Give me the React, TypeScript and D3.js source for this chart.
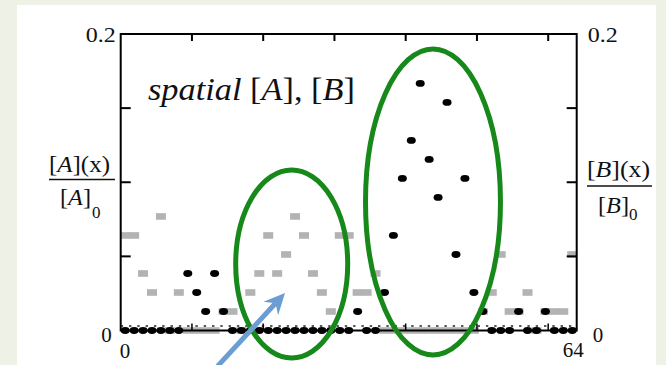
import React from 'react';
import * as d3 from 'd3';

const WIDTH = 666;
const HEIGHT = 365;
const MARGIN = { top: 34, right: 89.3, bottom: 34.5, left: 120.7 };
const FONT = '"Liberation Serif", "DejaVu Serif", serif';

// molecules per lattice site (0..50), one level = UNIT of [X]/[X]0
const UNIT = 0.01282;
const aCounts = [5, 5, 3, 2, 6, 0, 2, 0, 0, 0, 0, 1, 1, 0, 2, 3, 5, 3, 4, 6, 5, 3, 2, 1, 5, 5,
  2, 2, 3, 0, 0, 0, 0, 0, 0, 0, 0, 0, 0, 0, 1, 2, 4, 1, 1, 2, 0, 1, 1, 1, 4];
const bCounts = [0, 0, 0, 0, 0, 0, 0, 3, 2, 1, 3, 1, 0, 0, 0, 0, 0, 0, 0, 0, 0, 0, 0, 0, 0, 0,
  1, 0, 0, 2, 5, 8, 10, 13, 9, 7, 12, 4, 8, 2, 1, 0, 0, 0, 1, 0, 0, 1, 0, 0, 0];

const xDomain = [0, 64];
const xTicks = [10, 20, 30, 40, 50, 60];
const yDomain = [0, 0.2];
const yTicks = [0.05, 0.1, 0.15];
const THRESHOLD = 0.003;

// annotations, in data units
const ellipses = [
  { cx: 24.0, cy: 0.0449, rx: 7.86, ry: 0.0634 },
  { cx: 43.83, cy: 0.0867, rx: 9.47, ry: 0.1032 },
];
const arrow = { x1: 13.6, y1: -0.024, x2: 23.06, y2: 0.0253 };

export default function App() {
  const left = MARGIN.left;
  const right = WIDTH - MARGIN.right;
  const top = MARGIN.top;
  const bottom = HEIGHT - MARGIN.bottom;

  const sites = aCounts.map((_, i) => i);
  const xBand = d3.scaleBand<number>().domain(sites).range([left, right]);
  const x = d3.scaleLinear().domain(xDomain).range([left, right]);
  const y = d3.scaleLinear().domain(yDomain).range([bottom, top]);
  const cx = (i: number) => (xBand(i) as number) + xBand.bandwidth() / 2;

  // arrow head geometry
  const ax1 = x(arrow.x1), ay1 = y(arrow.y1), ax2 = x(arrow.x2), ay2 = y(arrow.y2);
  const len = Math.hypot(ax2 - ax1, ay2 - ay1);
  const ux = (ax2 - ax1) / len, uy = (ay2 - ay1) / len;
  const px = -uy, py = ux;
  const L = 21, Wd = 10, N = 7;
  const bx = ax2 - ux * L, by = ay2 - uy * L;
  const nx = ax2 - ux * (L - N), ny = ay2 - uy * (L - N);
  const head = `M${ax2},${ay2}L${bx + px * Wd},${by + py * Wd}L${nx},${ny}L${bx - px * Wd},${by - py * Wd}Z`;

  return (
    <div style={{ position: 'absolute', left: 0, top: 0 }}>
      <svg width={WIDTH} height={HEIGHT} style={{ display: 'block' }} fontFamily={FONT}>
        <rect width={WIDTH} height={HEIGHT} fill="#eef1e5" />
        <rect x={17} y={5} width={639} height={HEIGHT - 5} fill="#ffffff" />

        {/* species A */}
        {aCounts.map((c, i) => (
          <rect key={'a' + i} x={cx(i) - 5} y={y(c * UNIT) - 3.3} width={10} height={6.6} fill="#b3b3b3" />
        ))}

        <line x1={left} x2={right} y1={y(THRESHOLD)} y2={y(THRESHOLD)}
          stroke="#222" strokeWidth={1.5} strokeDasharray="2.4 5.9" />

        {/* frame + ticks */}
        <rect x={left} y={top} width={right - left} height={bottom - top} fill="none" stroke="#000" strokeWidth={2} />
        {xTicks.map((t) => (
          <g key={'xt' + t}>
            <line x1={x(t)} x2={x(t)} y1={top} y2={top + 7} stroke="#000" strokeWidth={2} />
            <line x1={x(t)} x2={x(t)} y1={bottom} y2={bottom - 7} stroke="#000" strokeWidth={1.5} />
          </g>
        ))}
        {yTicks.map((t) => (
          <g key={'yt' + t}>
            <line x1={left} x2={left + 10} y1={y(t)} y2={y(t)} stroke="#000" strokeWidth={2} />
            <line x1={right} x2={right - 10} y1={y(t)} y2={y(t)} stroke="#000" strokeWidth={2} />
          </g>
        ))}

        {/* species B */}
        {bCounts.map((c, i) => (
          <ellipse key={'b' + i} cx={cx(i)} cy={y(c * UNIT)} rx={4.5} ry={3.4} fill="#000" />
        ))}

        {/* tick labels */}
        <text x={left - 5} y={y(0.2) + 8} fontSize={21} textAnchor="end" textLength={30} lengthAdjust="spacingAndGlyphs" fill="#111">0.2</text>
        <text x={left - 9} y={y(0) + 11} fontSize={21} textAnchor="end" fill="#111">0</text>
        <text x={right + 11} y={y(0.2) + 8} fontSize={21} textLength={30} lengthAdjust="spacingAndGlyphs" fill="#111">0.2</text>
        <text x={right + 16} y={y(0) + 11} fontSize={21} fill="#111">0</text>
        <text x={x(0) - 1} y={bottom + 27} fontSize={21} fill="#111">0</text>
        <text x={x(64) + 7} y={bottom + 26} fontSize={21} textAnchor="end" fill="#111">64</text>

        {/* title */}
        <text x={148} y={100} fontSize={31} textLength={207} lengthAdjust="spacingAndGlyphs" fill="#111">
          <tspan fontStyle="italic">spatial</tspan>{' ['}<tspan fontStyle="italic">A</tspan>{'], ['}<tspan fontStyle="italic">B</tspan>{']'}
        </text>

        {/* left axis label */}
        <text x={49} y={172} fontSize={24} textLength={61} lengthAdjust="spacingAndGlyphs" fill="#111">
          {'['}<tspan fontStyle="italic">A</tspan>{'](x)'}
        </text>
        <line x1={49} x2={115} y1={179.5} y2={179.5} stroke="#111" strokeWidth={1.3} />
        <text x={60} y={205} fontSize={24} textLength={31} lengthAdjust="spacingAndGlyphs" fill="#111">
          {'['}<tspan fontStyle="italic">A</tspan>{']'}
        </text>
        <text x={92} y={218} fontSize={17} fill="#111">0</text>

        {/* right axis label */}
        <text x={587} y={177} fontSize={24} textLength={63} lengthAdjust="spacingAndGlyphs" fill="#111">
          {'['}<tspan fontStyle="italic">B</tspan>{'](x)'}
        </text>
        <line x1={587} x2={652} y1={186} y2={186} stroke="#111" strokeWidth={1.3} />
        <text x={598} y={213} fontSize={24} textLength={31} lengthAdjust="spacingAndGlyphs" fill="#111">
          {'['}<tspan fontStyle="italic">B</tspan>{']'}
        </text>
        <text x={629} y={220} fontSize={17} fill="#111">0</text>

        {/* annotations */}
        {ellipses.map((e, i) => (
          <ellipse key={'e' + i} cx={x(e.cx)} cy={y(e.cy)} rx={x(e.rx) - x(0)} ry={y(0) - y(e.ry)}
            fill="none" stroke="#16891a" strokeWidth={5} />
        ))}
        <line x1={ax1} y1={ay1} x2={nx} y2={ny} stroke="#6b9dd3" strokeWidth={5} />
        <path d={head} fill="#6b9dd3" />
      </svg>
    </div>
  );
}
